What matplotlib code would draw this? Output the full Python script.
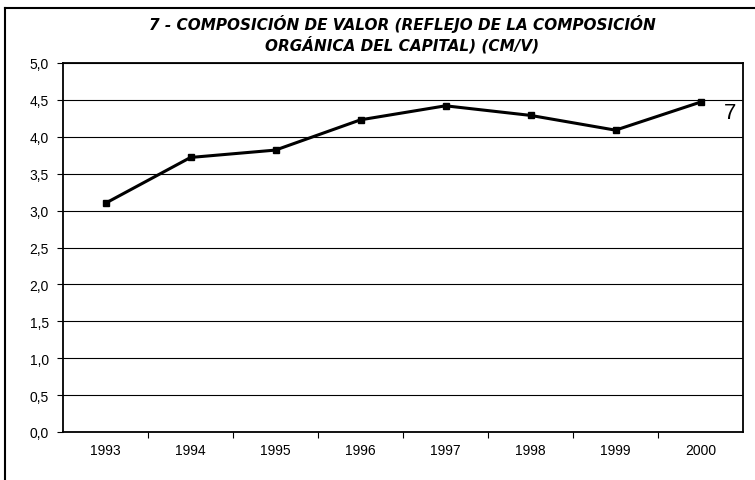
import matplotlib
matplotlib.use("Agg")
import matplotlib.pyplot as plt
from matplotlib.lines import Line2D

years = ["1993", "1994", "1995", "1996", "1997", "1998", "1999", "2000"]
values = [3.1, 3.72, 3.82, 4.23, 4.42, 4.29, 4.09, 4.47]
y_ticks = [0.0, 0.5, 1.0, 1.5, 2.0, 2.5, 3.0, 3.5, 4.0, 4.5, 5.0]
y_tick_labels = ["0,0", "0,5", "1,0", "1,5", "2,0", "2,5", "3,0", "3,5", "4,0", "4,5", "5,0"]
title = "7 - COMPOSICIÓN DE VALOR (REFLEJO DE LA COMPOSICIÓN\nORGÁNICA DEL CAPITAL) (CM/V)"
series_label = "7"

plt.rcParams['font.family'] = ['Liberation Sans', 'DejaVu Sans']

fig = plt.figure(figsize=(7.55, 4.81), dpi=100)
ax = fig.add_axes([63/755, 1 - 433/481, (743-63)/755, (433-64)/481])

x = list(range(len(years)))
ax.plot(x, values, color='black', lw=2.2, marker='s', markersize=4, zorder=3)
ax.text(x[-1] + 0.27, values[-1] - 0.14, series_label, fontsize=16, va='center', ha='left')

ax.set_xlim(-0.5, len(years) - 0.5)
ax.set_ylim(0, 5)
ax.set_yticks(y_ticks)
ax.set_yticklabels(y_tick_labels, fontsize=10)
ax.set_xticks(x)
ax.set_xticklabels(years, fontsize=10)
ax.tick_params(axis='x', length=0, pad=8)
ax.tick_params(axis='y', length=4, direction='out', width=0.8, pad=6)
ax.set_xticks([i + 0.5 for i in x[:-1]], minor=True)
ax.tick_params(axis='x', which='minor', length=4, direction='out', width=0.8)

ax.grid(axis='y', color='black', lw=0.8)
ax.set_axisbelow(True)
for s in ax.spines.values():
    s.set_linewidth(1.3)
    s.set_color('black')

fig.text(402/755, 1 - 34/481, title, ha='center', va='center', fontsize=11,
         family='DejaVu Sans', fontweight='bold', fontstyle='italic', linespacing=1.2)

fig.add_artist(Line2D([5/755, 5/755], [0, 1 - 9/481], color='black', lw=1.5, transform=fig.transFigure))
fig.add_artist(Line2D([5/755, 1], [1 - 9/481, 1 - 9/481], color='black', lw=1.5, transform=fig.transFigure))

fig.savefig("out.png", dpi=100)
